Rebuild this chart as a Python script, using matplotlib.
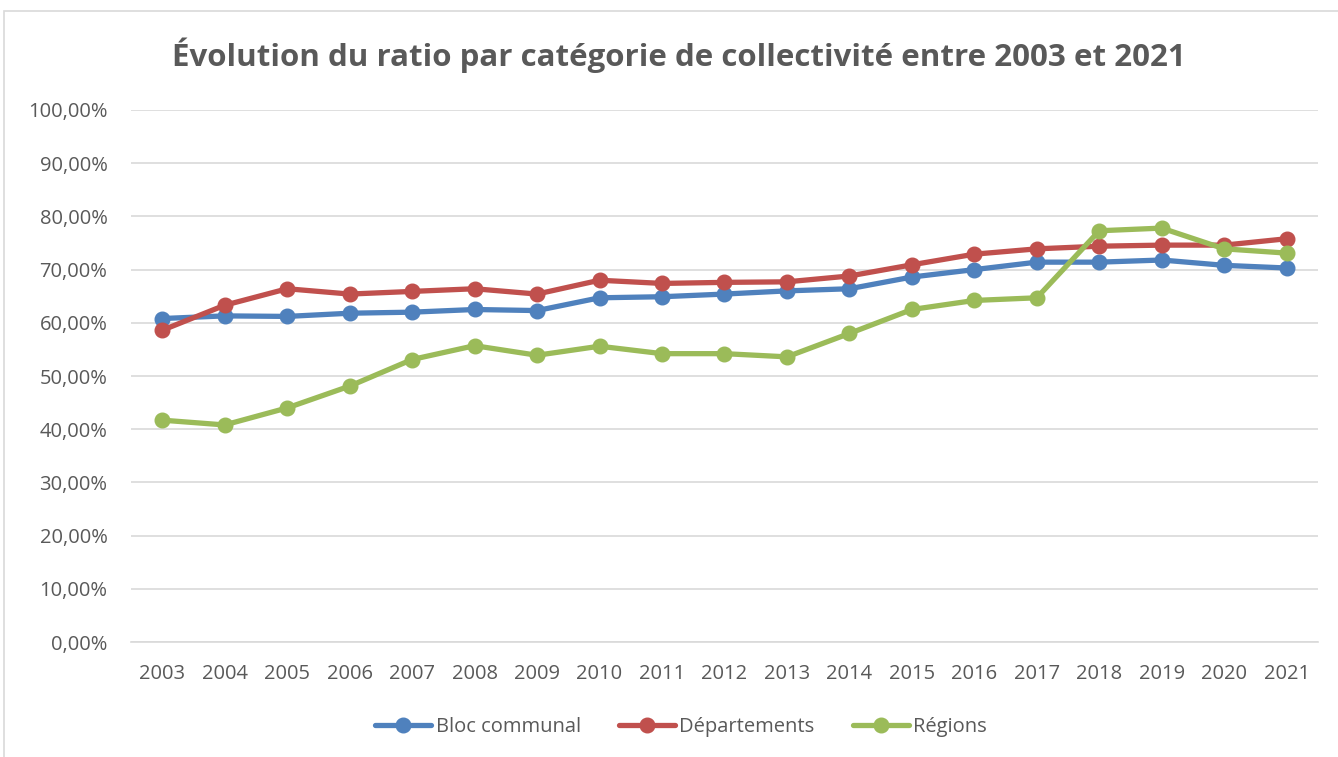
import numpy as np
import matplotlib.pyplot as plt
from matplotlib.patches import Rectangle
from matplotlib.ticker import FuncFormatter

plt.rcParams['font.family'] = ['Open Sans', 'DejaVu Sans']

years = [str(y) for y in range(2003, 2022)]
bloc = [60.8, 61.3, 61.2, 61.8, 62.0, 62.5, 62.3, 64.7, 64.9, 65.4,
        66.0, 66.4, 68.6, 70.0, 71.4, 71.4, 71.8, 70.8, 70.3]
departements = [58.6, 63.3, 66.4, 65.4, 65.9, 66.4, 65.4, 68.0, 67.4, 67.6,
                67.7, 68.8, 70.9, 72.9, 73.9, 74.4, 74.6, 74.6, 75.8]
regions = [41.7, 40.8, 44.0, 48.1, 53.1, 55.7, 53.9, 55.6, 54.2, 54.2,
           53.6, 58.0, 62.5, 64.2, 64.7, 77.3, 77.8, 73.9, 73.1]

grey = '#595959'
fig = plt.figure(figsize=(13.38, 7.57), dpi=100)
ax = fig.add_axes([0.0979, 0.1519, 0.8871, 0.7028])

# outer chart border
fig.patches.append(Rectangle((0.003, -0.01), 1.05, 0.995, transform=fig.transFigure,
                             fill=False, edgecolor='#d9d9d9', linewidth=1.2))

x = np.arange(len(years))
series = [(bloc, '#4f81bd', 'Bloc communal'),
          (departements, '#c0504d', 'Départements'),
          (regions, '#9bbb59', 'Régions')]
for vals, col, lab in series:
    ax.plot(x, vals, color=col, lw=3.8, marker='o', ms=10.5, label=lab,
            solid_capstyle='round')

ax.set_xlim(-0.5, len(years) - 0.5)
ax.set_ylim(0, 100)
ax.set_yticks(np.arange(0, 101, 10))
ax.yaxis.set_major_formatter(FuncFormatter(lambda v, p: f'{v:.2f}%'.replace('.', ',')))
ax.set_xticks(x)
ax.set_xticklabels(years)
ax.grid(axis='y', color='#d9d9d9', lw=1.2)
ax.set_axisbelow(True)
for s in ['top', 'right', 'left']:
    ax.spines[s].set_visible(False)
ax.spines['bottom'].set_color('#d9d9d9')
ax.spines['bottom'].set_linewidth(1.2)
ax.tick_params(length=0, labelsize=14.5, labelcolor=grey)
ax.tick_params(axis='y', pad=17)
ax.tick_params(axis='x', pad=16)

fig.suptitle('Évolution du ratio par catégorie de collectivité entre 2003 et 2021',
             x=0.507, y=0.951, fontsize=22.5, fontweight='bold', color=grey)

fig.legend(loc='center', bbox_to_anchor=(0.509, 0.04), ncol=3, frameon=False,
           fontsize=14.5, labelcolor=grey, handlelength=2.8, columnspacing=1.9,
           handletextpad=0.2)

fig.savefig('out.png', dpi=100)
